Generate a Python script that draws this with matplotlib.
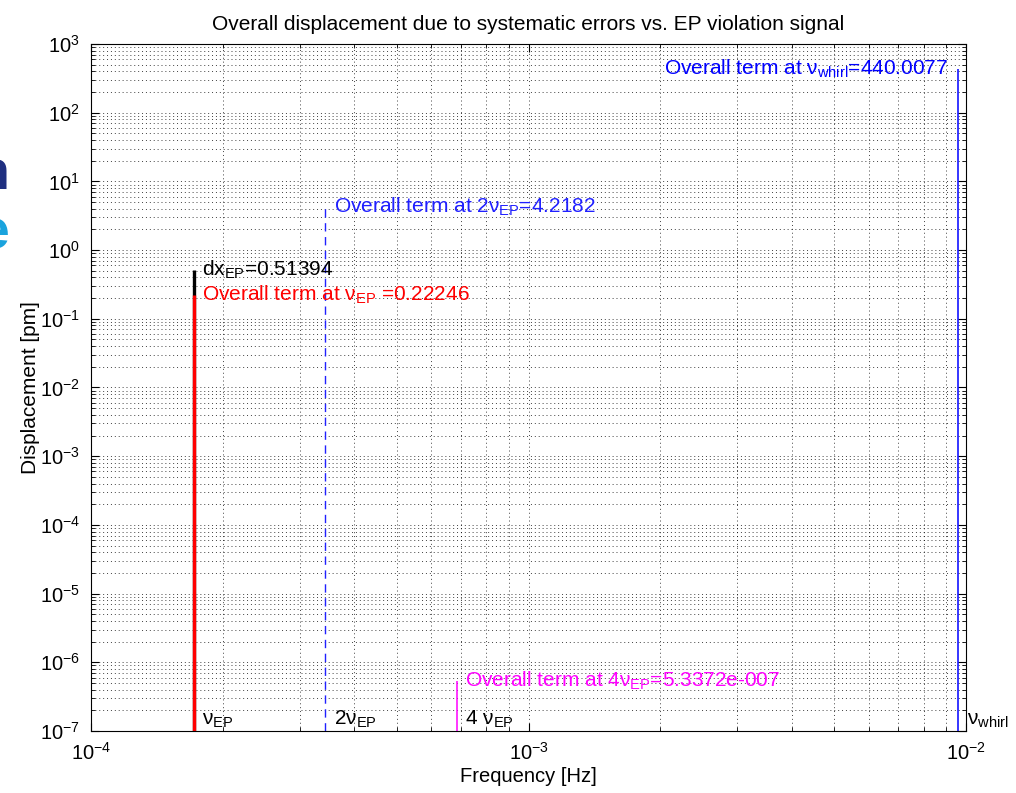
import matplotlib
matplotlib.use('Agg')
import matplotlib.pyplot as plt
from matplotlib.ticker import LogLocator, NullFormatter

plt.rcParams['font.family'] = ['Liberation Sans', 'DejaVu Sans']
plt.rcParams['mathtext.fontset'] = 'custom'
plt.rcParams['mathtext.rm'] = 'Liberation Sans'
plt.rcParams['mathtext.it'] = 'Liberation Sans:italic'
plt.rcParams['mathtext.default'] = 'regular'

# Frequencias das linhas (Hz)
f_ep = 1.715e-4
f_2ep = 3.43e-4
f_4ep = 6.86e-4
f_whirl = 9.6e-3

# Deslocamentos (pm)
dx_ep = 0.51394
termos = [0.22246, 4.2182, 5.3372e-7, 440.0077]
freqs = [f_ep, f_2ep, f_4ep, f_whirl]
cores = ['#ff0000', '#2020ff', '#ff00ff', '#0000ff']
estilos = ['-', (0, (6, 4)), '-', '-']
larguras = [2.4, 1.0, 1.1, 1.1]
textos = [r'Overall term at $\nu_{EP}$ =0.22246',
          r'Overall term at 2$\nu_{EP}$=4.2182',
          r'Overall term at 4$\nu_{EP}$=5.3372e-007',
          r'Overall term at $\nu_{whirl}$=440.0077']
rotulos = [r'$\nu_{EP}$', r'2$\nu_{EP}$', r'4 $\nu_{EP}$', r'$\nu_{whirl}$']

ymin = 1e-7
fs = 15

fig = plt.figure(figsize=(10.16, 7.93), dpi=100)
ax = fig.add_axes([0.0896, 0.0782, 0.8612, 0.8663])
ax.set_xscale('log')
ax.set_yscale('log')
ax.set_xlim(1e-4, 1e-2)
ax.set_ylim(1e-7, 1e3)

ax.yaxis.set_major_locator(LogLocator(base=10, numticks=20))
ax.yaxis.set_minor_locator(LogLocator(base=10, subs=range(2, 10), numticks=200))
ax.yaxis.set_minor_formatter(NullFormatter())

ax.grid(True, which='both', ls=(0, (1, 3)), color='k', lw=0.7, alpha=0.75)
ax.tick_params(which='both', direction='in', top=True, right=True, labelsize=14.5)
ax.tick_params(which='major', length=6, pad=8)
ax.tick_params(which='minor', length=3)

# linha preta do sinal EP
ax.vlines(f_ep, ymin, dx_ep, color='k', lw=2.4)
ax.annotate(r'dx$_{EP}$=0.51394', xy=(f_ep, dx_ep), xytext=(6, 0),
            textcoords='offset points', va='center', ha='left', fontsize=fs, color='k')

for f, v, c, ls, lw, t in zip(freqs, termos, cores, estilos, larguras, textos):
    ax.vlines(f, ymin, v, color=c, lw=lw, linestyles=[ls])
    if f == f_whirl:
        ax.annotate(t, xy=(f, v), xytext=(-7, 0), textcoords='offset points',
                    va='center', ha='right', fontsize=fs, color=c)
    else:
        ax.annotate(t, xy=(f, v), xytext=(6, 0), textcoords='offset points',
                    va='center', ha='left', fontsize=fs, color=c)

for f, r in zip(freqs, rotulos):
    ax.annotate(r, xy=(f, ymin), xytext=(6, 1), textcoords='offset points',
                va='bottom', ha='left', fontsize=fs, color='k', annotation_clip=False)

ax.set_title('Overall displacement due to systematic errors vs. EP violation signal',
             fontsize=15, pad=10)
ax.set_xlabel('Frequency [Hz]', fontsize=14.5, labelpad=2)
ax.set_ylabel('Displacement [pm]', fontsize=15, labelpad=0)

# restos do slide no fundo
fig.text(0.009, 0.779, 'n', color='#1f2f80', fontsize=40, ha='right', va='center', weight='bold')
fig.text(0.009, 0.704, 'e', color='#1aa3dd', fontsize=40, ha='right', va='center', weight='bold')

fig.savefig('out.png', dpi=100)
